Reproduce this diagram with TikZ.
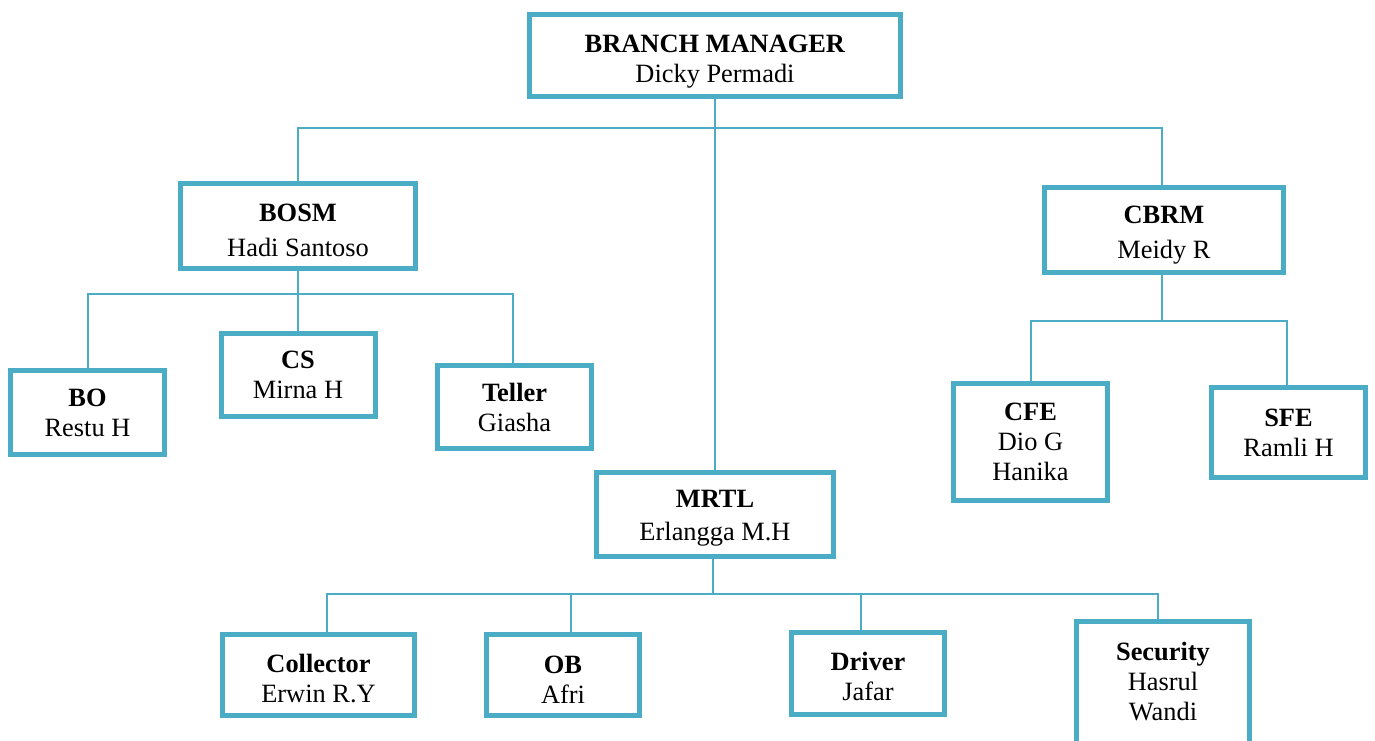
\documentclass[tikz,border=0pt]{standalone}
\usepackage{fontspec}
\setmainfont{Liberation Serif}
\usepackage{tikz}
\definecolor{boxblue}{HTML}{4BACC6}
\newcommand{\toppad}[1]{\rule{0pt}{#1}}
\newcommand{\botpad}[1]{\rule[-#1]{0pt}{0pt}}

\begin{document}
\begin{tikzpicture}[x=0.5pt, y=-0.5pt,
  box/.style={draw=boxblue, line width=2.5pt, fill=white, align=center,
    minimum width=77pt, minimum height=42pt, inner sep=1pt,
    font=\fontsize{13.2}{15}\selectfont},
  link/.style={draw=boxblue, line width=1pt}]
\useasboundingbox (0,0) rectangle (1375,740);
% top level
\node[box, minimum width=185.5pt, minimum height=41pt] (bm) at (715,55.5) {\toppad{14.7pt}\textbf{BRANCH MANAGER}\\Dicky Permadi};
% managers
\node[box, minimum width=117.5pt, minimum height=42.5pt] (bosm) at (298,226) {\toppad{12.7pt}\textbf{BOSM}\\[2.5pt]Hadi Santoso};
\node[box, minimum width=119.5pt, minimum height=42.5pt] (cbrm) at (1164,230) {\toppad{13.7pt}\textbf{CBRM}\\[2.5pt]Meidy R};
\node[box, minimum width=118.5pt] (mrtl) at (715,514.5) {\toppad{12.2pt}\textbf{MRTL}\\[1.5pt]Erlangga M.H};
% under BOSM
\node[box] (bo) at (87.5,412.5) {\textbf{BO}\\Restu H};
\node[box, minimum height=41.5pt] (cs) at (298,375) {\textbf{CS}\\Mirna H};
\node[box, minimum height=41.5pt] (teller) at (514.5,407) {\textbf{Teller}\\Giasha};
% under CBRM
\node[box, minimum height=58.5pt] (cfe) at (1030.5,442) {\textbf{CFE}\\Dio G\\Hanika};
\node[box, minimum height=45pt] (sfe) at (1288.5,432.5) {\textbf{SFE}\\Ramli H};
% under MRTL
\node[box, minimum width=96pt, minimum height=40.5pt] (coll) at (318.5,675) {\toppad{13pt}\textbf{Collector}\\Erwin R.Y};
\node[box, minimum width=76.5pt, minimum height=40.5pt] (ob) at (563,675) {\toppad{13pt}\textbf{OB}\\Afri};
\node[box, minimum width=76.5pt, minimum height=41pt] (driver) at (868,673.5) {\toppad{12pt}\textbf{Driver}\\Jafar};
\node[box, minimum width=86.5pt, minimum height=62.5pt] (sec) at (1163,684) {\textbf{Security}\\Hasrul\\Wandi\botpad{3pt}};

% connectors
\draw[link] (bm.south) -- (mrtl.north);
\draw[link] (bm.south) ++(0,29) coordinate (bus1) -| (bosm.north);
\draw[link] (bus1) -| ([xshift=-1pt]cbrm.north);
\draw[link] (bosm.south) -- (cs.north);
\draw[link] (bosm.south) ++(0,23) coordinate (bus2) -| (bo.north);
\draw[link] (bus2) -| ([xshift=-1pt]teller.north);
\draw[link] ([xshift=-1pt]cbrm.south) -- ++(0,46) coordinate (bus3) -| (cfe.north);
\draw[link] (bus3) -| ([xshift=-1pt]sfe.north);
\draw[link] ([xshift=-1pt]mrtl.south) -- ++(0,35) coordinate (bus4) -| ([xshift=4pt]coll.north);
\draw[link] (bus4) -| ([xshift=4pt]ob.north);
\draw[link] (bus4) -| ([xshift=-3.5pt]driver.north);
\draw[link] (bus4) -| ([xshift=-2.5pt]sec.north);
\end{tikzpicture}
\end{document}
